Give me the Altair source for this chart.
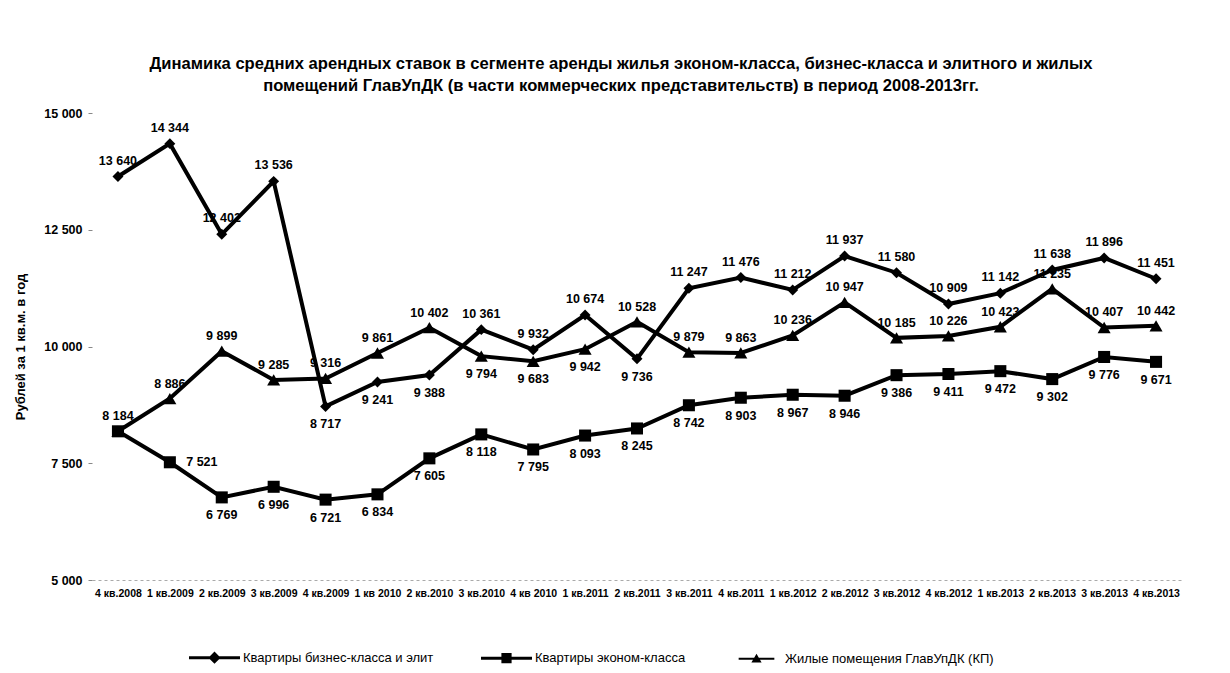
import altair as alt
import pandas as pd

quarters = ["4 кв.2008", "1 кв.2009", "2 кв.2009", "3 кв.2009", "4 кв.2009",
            "1 кв 2010", "2 кв.2010", "3 кв.2010", "4 кв 2010", "1 кв.2011",
            "2 кв.2011", "3 кв.2011", "4 кв.2011", "1 кв.2012", "2 кв.2012",
            "3 кв.2012", "4 кв.2012", "1 кв.2013", "2 кв.2013", "3 кв.2013",
            "4 кв.2013"]
business = [13640, 14344, 12402, 13536, 8717, 9241, 9388, 10361, 9932, 10674,
            9736, 11247, 11476, 11212, 11937, 11580, 10909, 11142, 11638, 11896, 11451]
economy = [8184, 7521, 6769, 6996, 6721, 6834, 7605, 8118, 7795, 8093,
           8245, 8742, 8903, 8967, 8946, 9386, 9411, 9472, 9302, 9776, 9671]
glav = [8184, 8886, 9899, 9285, 9316, 9861, 10402, 9794, 9683, 9942,
        10528, 9879, 9863, 10236, 10947, 10185, 10226, 10423, 11235, 10407, 10442]
names = ["Квартиры бизнес-класса и элит", "Квартиры эконом-класса",
         "Жилые помещения ГлавУпДК (КП)"]

rows = []
for k, (vals, name) in enumerate(zip([business, economy, glav], names)):
    for i, (q, v) in enumerate(zip(quarters, vals)):
        rows.append({"q": q, "i": i, "k": k, "s": name, "v": v})
df = pd.DataFrame(rows)

FONT = "Liberation Sans"

x = alt.X("q:N", sort=quarters, title=None,
          axis=alt.Axis(labelAngle=0, labelFontSize=10.5, labelFontWeight="bold",
                        labelFont=FONT, ticks=False, domainColor="#aaa",
                        domainDash=[3, 3], labelPadding=8, labelColor="black"))
y = alt.Y("v:Q", title="Рублей за 1 кв.м. в год",
          scale=alt.Scale(domain=[5000, 15000], nice=False, zero=False),
          axis=alt.Axis(values=[5000, 7500, 10000, 12500, 15000],
                        labelExpr="replace(format(datum.value, ','), ',', ' ')",
                        grid=False, domain=False, tickColor="#888", tickSize=4,
                        labelFontSize=12.5, labelFontWeight="bold", labelFont=FONT,
                        labelColor="black", labelPadding=6,
                        titleFontSize=13, titleFontWeight="bold", titleFont=FONT,
                        titleColor="black", titlePadding=16))

base = alt.Chart(df)

lines = base.mark_line(color="black").encode(
    x=x, y=y, detail="s:N",
    strokeWidth=alt.StrokeWidth("s:N", scale=alt.Scale(domain=names, range=[4, 4, 2]),
                                legend=None))

points = base.mark_point(filled=True, color="black", opacity=1).encode(
    x=x, y=y,
    shape=alt.Shape("s:N", scale=alt.Scale(domain=names,
                                           range=["diamond", "square", "triangle-up"]),
                    legend=None),
    size=alt.Size("s:N", scale=alt.Scale(domain=names, range=[120, 170, 90]),
                  legend=None))

legend_paths = ["M-1,-0.06H1V0.06H-1ZM0,-0.24L0.24,0L0,0.24L-0.24,0Z",
                "M-1,-0.06H1V0.06H-1ZM-0.2,-0.2H0.2V0.2H-0.2Z",
                "M-0.7,-0.035H0.7V0.035H-0.7ZM0,-0.2L0.2,0.15H-0.2Z"]
legend_layer = base.mark_point(filled=True, color="black", opacity=0).encode(
    x=x, y=y,
    shape=alt.Shape("s:N", scale=alt.Scale(domain=names, range=legend_paths),
                    legend=alt.Legend(orient="none", legendX=96, legendY=518,
                                      direction="horizontal", title=None,
                                      symbolSize=2600, symbolOpacity=1,
                                      symbolFillColor="black",
                                      labelFontSize=13,
                                      labelFont=FONT, labelColor="black",
                                      columnPadding=44, labelOffset=2,
                                      labelLimit=400)))

lab = "replace(format(datum.v, ','), ',', ' ')"


def labels(filter_expr, dy, dx=0):
    return base.transform_filter(filter_expr).transform_calculate(lab=lab).mark_text(
        dy=dy, dx=dx, fontSize=12.5, fontWeight="bold", font=FONT, color="black"
    ).encode(x=x, y=y, text="lab:N")


b_below = "indexof([4, 5, 6, 10], datum.i) >= 0"
g_below = "indexof([7, 8, 9], datum.i) >= 0"
txt_b1 = labels(f"datum.k == 0 && !({b_below})", -16)
txt_b2 = labels(f"datum.k == 0 && ({b_below})", 18)
txt_e1 = labels("datum.k == 1 && datum.i > 1", 18)
txt_e2 = labels("datum.k == 1 && datum.i == 1", 0, dx=32)
txt_g1 = labels(f"datum.k == 2 && !({g_below})", -15)
txt_g2 = labels(f"datum.k == 2 && ({g_below})", 18)

title = alt.TitleParams(
    text=["Динамика средних арендных ставок в сегменте аренды жилья эконом-класса, бизнес-класса и элитного и жилых",
          "помещений ГлавУпДК (в части коммерческих представительств) в период 2008-2013гг."],
    fontSize=16.6, fontWeight="bold", font=FONT, color="black", anchor="middle",
    dx=-16, offset=12, lineHeight=22)

chart = alt.layer(lines, points, legend_layer, txt_b1, txt_b2, txt_e1, txt_e2,
                  txt_g1, txt_g2).resolve_scale(
    shape="independent").properties(
    width=1090, height=467, title=title, background="white",
    autosize=alt.AutoSizeParams(type="none"),
    padding={"left": 84, "top": 105, "right": 10, "bottom": 90},
).configure_view(stroke=None, strokeWidth=0)

chart.save("out.html", embed_options={"renderer": "svg", "actions": False})
